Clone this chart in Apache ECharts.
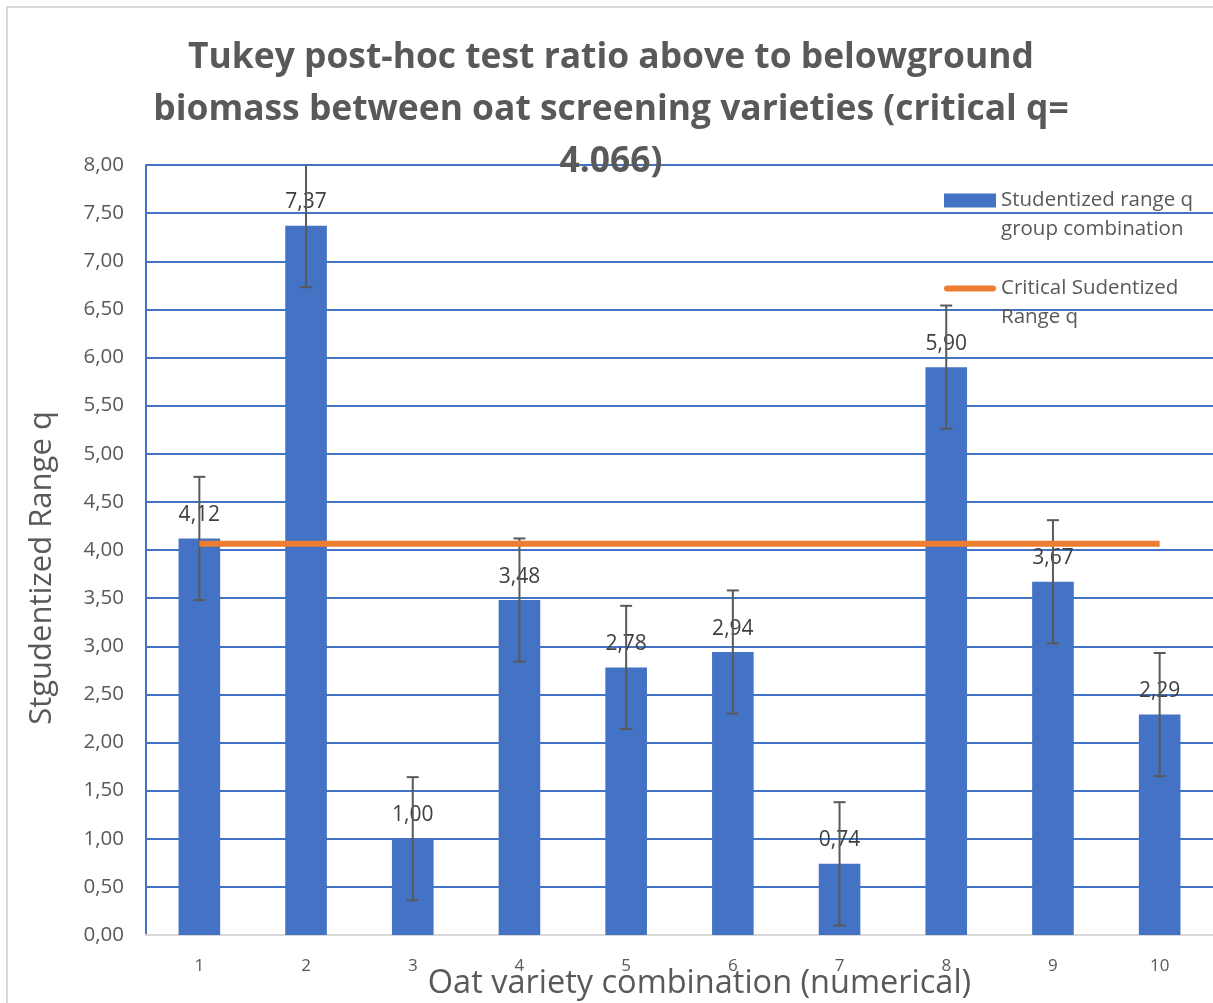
<!DOCTYPE html>
<html>
<head>
<meta charset="utf-8">
<title>Tukey post-hoc test</title>
<script src="https://cdn.jsdelivr.net/npm/echarts@6/dist/echarts.min.js"></script>
<style>
  html, body { margin: 0; padding: 0; background: #fff; }
  #chart { width: 1213px; height: 1003px; }
</style>
</head>
<body>
<div id="chart"></div>
<script>
// data
const categories = ['1', '2', '3', '4', '5', '6', '7', '8', '9', '10']
const qValues = [4.12, 7.37, 1.00, 3.48, 2.78, 2.94, 0.74, 5.90, 3.67, 2.29]
const qErrors = [0.64, 0.64, 0.64, 0.64, 0.64, 0.64, 0.64, 0.64, 0.64, 0.64]
const criticalQ = [4.066, 4.066, 4.066, 4.066, 4.066, 4.066, 4.066, 4.066, 4.066, 4.066]

const FONT = '"Open Sans", "Liberation Sans", sans-serif'
const fmt = (v) => Number(v).toFixed(2).replace('.', ',')

const BAR_NAME = 'Studentized range q\ngroup combination'
const LINE_NAME = 'Critical Sudentized\nRange q'

const chart = echarts.init(document.getElementById('chart'))

const errorData = qValues.map((v, i) => [i, v - qErrors[i], v + qErrors[i]])

const option = {
  backgroundColor: '#ffffff',
  animation: false,
  textStyle: { fontFamily: FONT },
  title: {
    text: 'Tukey post-hoc test ratio above to belowground\nbiomass between oat screening varieties (critical q=\n4.066)',
    left: 611,
    textAlign: 'center',
    top: 32,
    padding: 0,
    textStyle: {
      fontFamily: FONT,
      fontSize: 35.4,
      fontWeight: 'bold',
      color: '#595959',
      lineHeight: 52
    }
  },
  graphic: [
    {
      type: 'rect',
      silent: true,
      shape: { x: 7, y: 7, width: 1230, height: 1020 },
      style: { fill: 'none', stroke: '#d9d9d9', lineWidth: 2 },
      z: -1
    }
  ],
  legend: {
    orient: 'vertical',
    left: 939,
    top: 152,
    itemWidth: 52,
    itemHeight: 14,
    itemGap: 1,
    // leading blank line keeps the icon level with the first text line
    formatter: (name) => ' \n' + name,
    textStyle: {
      fontFamily: FONT,
      fontSize: 20.5,
      color: '#595959',
      lineHeight: 29
    },
    data: [
      { name: BAR_NAME, icon: 'rect' },
      { name: LINE_NAME, icon: 'path://M3,0 L49,0 A3,3 0 0 1 49,6 L3,6 A3,3 0 0 1 3,0 Z' }
    ]
  },
  grid: {
    left: 146,
    right: 0,
    top: 165,
    bottom: 68,
    containLabel: false,
    outerBoundsMode: 'none'
  },
  xAxis: {
    type: 'category',
    data: categories,
    axisTick: { show: false },
    axisLine: { lineStyle: { color: '#d9d9d9', width: 2 } },
    axisLabel: { color: '#595959', fontSize: 17, margin: 23, fontFamily: FONT },
    name: 'Oat variety combination (numerical)',
    nameLocation: 'middle',
    nameGap: 32,
    nameMoveOverlap: false,
    nameTextStyle: { color: '#595959', fontSize: 32.5, fontFamily: FONT, padding: [0, 0, 0, 40] }
  },
  yAxis: {
    type: 'value',
    min: 0,
    max: 8,
    interval: 0.5,
    axisLine: { show: true, lineStyle: { color: '#4472c4', width: 2 } },
    axisTick: { show: false },
    axisLabel: { color: '#595959', fontSize: 20.5, margin: 22, formatter: fmt, fontFamily: FONT },
    splitLine: { lineStyle: { color: '#4472c4', width: 2 } },
    name: 'Stgudentized Range q',
    nameLocation: 'middle',
    nameGap: 88,
    nameMoveOverlap: false,
    nameTextStyle: { color: '#595959', fontSize: 31, fontFamily: FONT, padding: [0, 36, 0, 0] }
  },
  series: [
    {
      name: BAR_NAME,
      type: 'bar',
      data: qValues,
      barWidth: '39%',
      itemStyle: { color: '#4472c4' },
      label: {
        show: true,
        position: 'top',
        distance: 13,
        color: '#404040',
        fontSize: 21,
        fontFamily: FONT,
        formatter: (p) => fmt(p.value)
      },
      z: 2
    },
    {
      name: 'errorbars',
      type: 'custom',
      data: errorData,
      clip: true,
      z: 3,
      renderItem: (params, api) => {
        const i = api.value(0)
        const lo = api.coord([i, api.value(1)])
        const hi = api.coord([i, api.value(2)])
        const half = 6
        const style = { stroke: '#595959', lineWidth: 2 }
        return {
          type: 'group',
          children: [
            { type: 'line', shape: { x1: lo[0], y1: lo[1], x2: hi[0], y2: hi[1] }, style },
            { type: 'line', shape: { x1: lo[0] - half, y1: lo[1], x2: lo[0] + half, y2: lo[1] }, style },
            { type: 'line', shape: { x1: hi[0] - half, y1: hi[1], x2: hi[0] + half, y2: hi[1] }, style }
          ]
        }
      }
    },
    {
      name: LINE_NAME,
      type: 'line',
      data: criticalQ,
      symbol: 'none',
      lineStyle: { color: '#ed7d31', width: 6 },
      itemStyle: { color: '#ed7d31' },
      z: 4
    }
  ]
}

chart.setOption(option)
</script>
</body>
</html>
